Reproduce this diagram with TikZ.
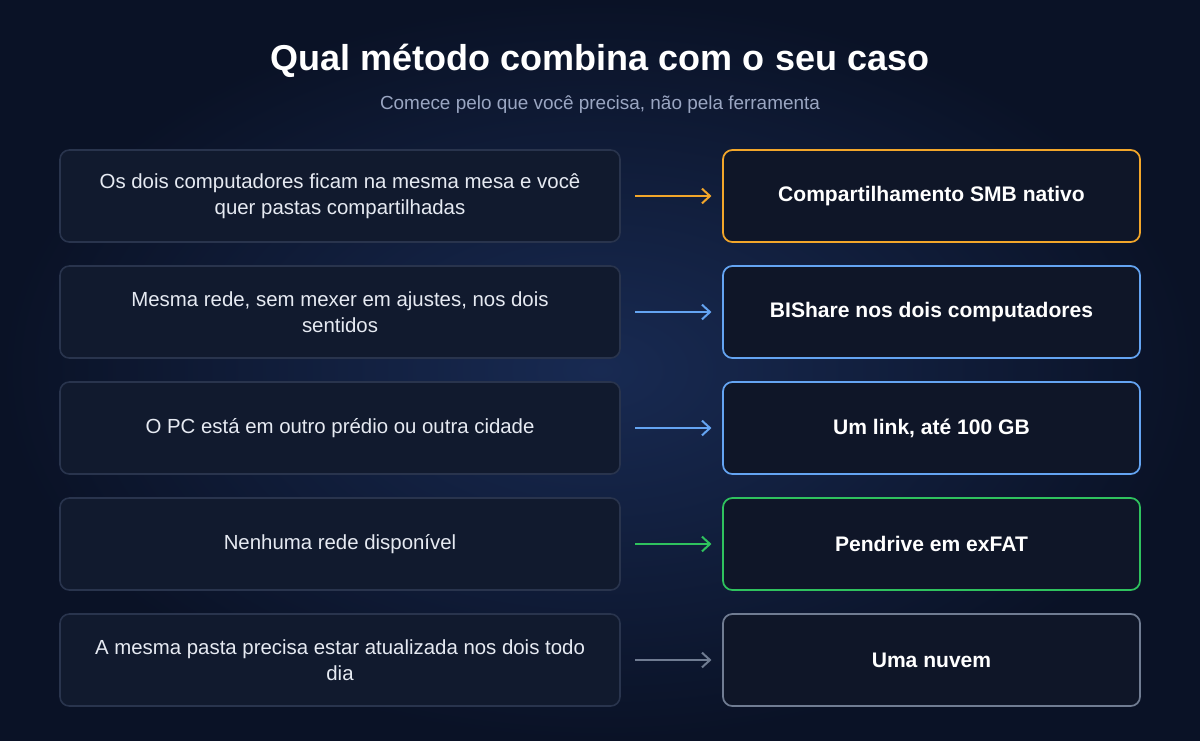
\documentclass[tikz,border=0pt]{standalone}
\usepackage{fontspec}
\setmainfont{Liberation Sans}
\usetikzlibrary{arrows.meta}
\definecolor{bgout}{HTML}{0A1226}
\definecolor{bgin}{HTML}{182A52}
\definecolor{lfill}{HTML}{111A2E}
\definecolor{lborder}{HTML}{29344D}
\definecolor{rfill}{HTML}{0F1628}
\definecolor{corange}{HTML}{F2A62A}
\definecolor{cblue}{HTML}{64A4F2}
\definecolor{cgreen}{HTML}{2FC25E}
\definecolor{cgray}{HTML}{707C92}
\definecolor{subc}{HTML}{9AA6C2}
\definecolor{txt}{HTML}{E6EAF2}
\begin{document}
\begin{tikzpicture}[x=0.75pt,y=-0.75pt,
 lbox/.style={draw=lborder,line width=1.2pt,fill=lfill,rounded corners=7pt,minimum width=420pt,minimum height=69pt,align=center,text=txt,font=\fontsize{15.3}{19.5}\selectfont,inner sep=0pt},
 rbox/.style={line width=1.3pt,fill=rfill,rounded corners=7pt,minimum width=312.75pt,minimum height=69pt,align=center,text=white,font=\fontsize{15.8}{19}\selectfont\bfseries,inner sep=0pt},
 arr/.style={-{Straight Barb[length=6pt,width=11pt]},line width=1.5pt}]
\useasboundingbox (0,0) rectangle (1200,740);
\shade[inner color=bgin,outer color=bgout] (0,0) rectangle (1200,740);
\node[text=white,font=\fontsize{27}{31}\selectfont\bfseries] (title) at (600,61) {Qual método combina com o seu caso};
\node[text=subc,font=\fontsize{14.2}{17}\selectfont] (sub) at (600,105) {Comece pelo que você precisa, não pela ferramenta};
\foreach \i/\y/\c/\l/\r in {
 1/196/corange/{Os dois computadores ficam na mesma mesa e você\\quer pastas compartilhadas}/{Compartilhamento SMB nativo},
 2/312/cblue/{Mesma rede, sem mexer em ajustes, nos dois\\sentidos}/{BIShare nos dois computadores},
 3/428/cblue/{O PC está em outro prédio ou outra cidade}/{Um link, até 100 GB},
 4/544/cgreen/{Nenhuma rede disponível}/{Pendrive em exFAT},
 5/660/cgray/{A mesma pasta precisa estar atualizada nos dois todo\\dia}/{Uma nuvem}}{
 \node[lbox] (l\i) at (340,\y) {\l};
 \node[rbox,draw=\c] (r\i) at (931.5,\y) {\r};
 \draw[arr,\c] ([xshift=11pt]l\i.east) -- ([xshift=-8pt]r\i.west);
}
\end{tikzpicture}
\end{document}
